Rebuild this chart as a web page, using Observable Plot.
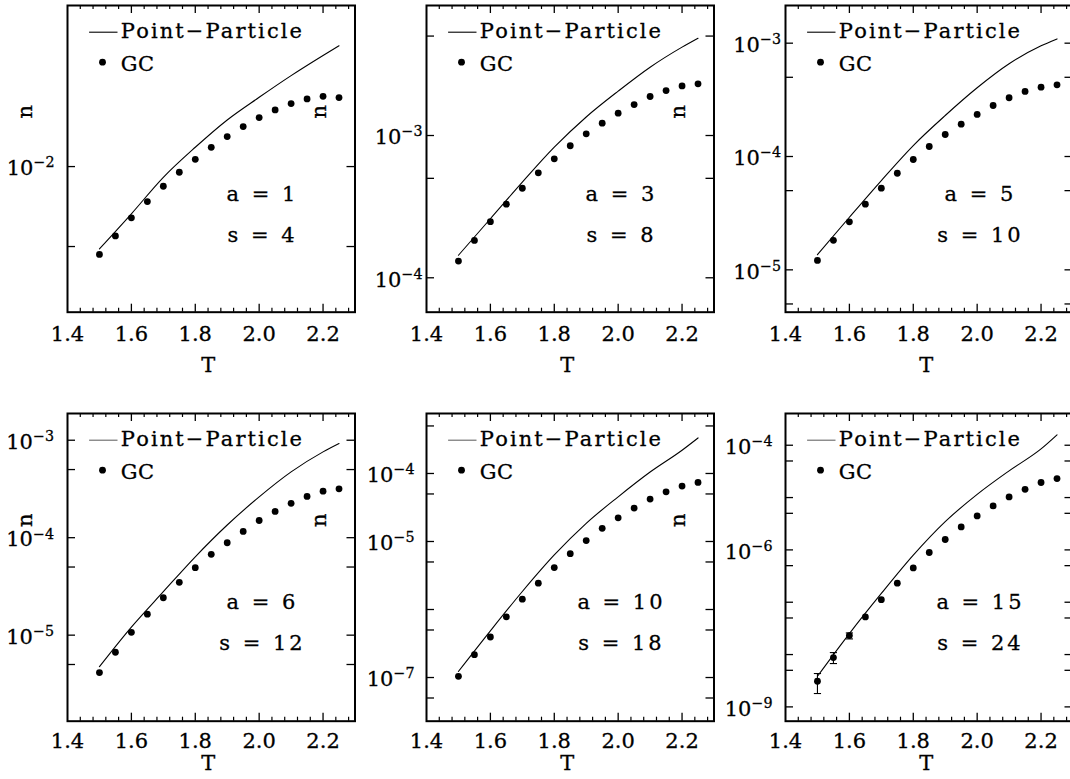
<!DOCTYPE html>
<html><head><meta charset="utf-8">
<script src="https://cdn.jsdelivr.net/npm/d3@7"></script>
<script src="https://cdn.jsdelivr.net/npm/@observablehq/plot@0.6"></script>
<style>
body{margin:0;background:#fff;}
#c{position:relative;width:1070px;height:779px;overflow:hidden;background:#fff;}
#c svg{position:absolute;max-width:none;}
</style></head><body><div id="c"></div>
<script>
// ---- data ----
const T = [1.5,1.55,1.6,1.65,1.7,1.75,1.8,1.85,1.9,1.95,2.0,2.05,2.1,2.15,2.2,2.25];
const T_pp = [1.5,1.6,1.7,1.8,1.9,2.0,2.1,2.2,2.25];

const gc_a1 = [4.67e-3,5.48e-3,6.41e-3,7.38e-3,8.43e-3,9.52e-3,1.065e-2,1.182e-2,1.297e-2,1.414e-2,1.529e-2,1.634e-2,1.726e-2,1.798e-2,1.839e-2,1.818e-2];
const pp_a1 = [4.90e-3,6.64e-3,9.11e-3,1.182e-2,1.498e-2,1.823e-2,2.20e-2,2.62e-2,2.85e-2];
const gc_a3 = [1.31e-4,1.83e-4,2.48e-4,3.29e-4,4.26e-4,5.47e-4,6.86e-4,8.47e-4,1.028e-3,1.22e-3,1.435e-3,1.65e-3,1.88e-3,2.07e-3,2.23e-3,2.31e-3];
const pp_a3 = [1.44e-4,2.60e-4,4.70e-4,8.28e-4,1.35e-3,2.05e-3,3.02e-3,4.18e-3,4.83e-3];
const gc_a5 = [1.21e-5,1.82e-5,2.65e-5,3.80e-5,5.25e-5,7.12e-5,9.41e-5,1.226e-4,1.564e-4,1.93e-4,2.35e-4,2.82e-4,3.30e-4,3.75e-4,4.09e-4,4.29e-4];
const pp_a5 = [1.36e-5,2.91e-5,6.14e-5,1.25e-4,2.30e-4,4.04e-4,6.58e-4,9.48e-4,1.09e-3];
const gc_a6 = [4.13e-6,6.68e-6,1.07e-5,1.64e-5,2.42e-5,3.48e-5,4.92e-5,6.75e-5,8.87e-5,1.16e-4,1.50e-4,1.86e-4,2.25e-4,2.65e-4,3.00e-4,3.17e-4];
const pp_a6 = [4.75e-6,1.21e-5,2.79e-5,6.37e-5,1.35e-4,2.62e-4,4.73e-4,7.59e-4,9.25e-4];
const gc_a10 = [1.04e-7,2.17e-7,3.94e-7,7.81e-7,1.42e-6,2.44e-6,4.13e-6,6.62e-6,1.03e-5,1.56e-5,2.23e-5,3.10e-5,4.20e-5,5.37e-5,6.52e-5,7.38e-5];
const pp_a10 = [1.23e-7,4.86e-7,1.84e-6,6.34e-6,1.85e-5,4.54e-5,1.05e-4,2.20e-4,3.33e-4];
const gc_a15 = [3.09e-9,8.77e-9,2.31e-8,5.24e-8,1.12e-7,2.31e-7,4.52e-7,8.91e-7,1.58e-6,2.75e-6,4.46e-6,6.92e-6,1.03e-5,1.44e-5,1.94e-5,2.31e-5];
const pp_a15 = [3.85e-9,2.52e-8,1.47e-7,7.94e-7,3.47e-6,1.15e-5,3.24e-5,8.51e-5,1.58e-4];
// error bars (a = 15 panel)
const err_T  = [1.5, 1.55, 1.6];
const err_lo = [1.80e-9, 6.73e-9, 1.99e-8];
const err_hi = [4.34e-9, 1.09e-8, 2.59e-8];

const a_vals = [1, 3, 5, 6, 10, 15];
const s_vals = [4, 8, 10, 12, 18, 24];

// axes
const x_domain = [1.4, 2.3];
const x_labels = [1.4, 1.6, 1.8, 2.0, 2.2];
const x_major = [1.6, 1.8, 2.0, 2.2];
const x_minor = [1.44,1.48,1.52,1.56,1.64,1.68,1.72,1.76,1.84,1.88,1.92,1.96,2.04,2.08,2.12,2.16,2.24,2.28];
const y_domains = [[2.83e-3, 4.04e-2],[5.73e-5, 8.20e-3],[4.23e-6, 2.15e-3],[1.31e-6, 1.88e-3],[2.28e-8, 7.62e-4],[5.33e-10, 4.04e-4]];
const y_ticks = [
  [5e-3, 1e-2],
  [1e-4, 5e-4, 1e-3, 5e-3],
  [5e-6, 1e-5, 5e-5, 1e-4, 5e-4, 1e-3],
  [5e-6, 1e-5, 5e-5, 1e-4, 5e-4, 1e-3],
  [5e-8, 1e-7, 5e-7, 1e-6, 5e-6, 1e-5, 5e-5, 1e-4, 5e-4],
  [1e-9, 5e-9, 1e-8, 5e-8, 1e-7, 5e-7, 1e-6, 5e-6, 1e-5, 5e-5, 1e-4]
];
const y_labels = [[1e-2],[1e-3,1e-4],[1e-3,1e-4,1e-5],[1e-3,1e-4,1e-5],[1e-4,1e-5,1e-7],[1e-4,1e-6,1e-9]];

const gcs = [gc_a1, gc_a3, gc_a5, gc_a6, gc_a10, gc_a15];
const pps = [pp_a1, pp_a3, pp_a5, pp_a6, pp_a10, pp_a15];

// ---- layout (pixels) ----
const layout = [
  {left:66.7,  top:5,     row:0, nDx:-42,    labDx:-13,  tDx:-3},
  {left:425.5, top:5,     row:0, nDx:-107.5, labDx:-4,   tDx:-3},
  {left:784.5, top:5,     row:0, nDx:-107.5, labDx:-4.5, tDx:-3},
  {left:66.7,  top:413.3, row:1, nDx:-42,    labDx:-13.5,tDx:-3},
  {left:425.5, top:413.3, row:1, nDx:-107.5, labDx:-12,  tDx:-3},
  {left:784.5, top:413.3, row:1, nDx:-107.5, labDx:-13,  tDx:-3}
];

const supMap = {"-":"⁻","0":"⁰","1":"¹","2":"²","3":"³","4":"⁴","5":"⁵","6":"⁶","7":"⁷","8":"⁸","9":"⁹"};
const unSup = Object.fromEntries(Object.entries(supMap).map(([k, v]) => [v, k === "-" ? "−" : k]));
const fmtPow = v => "10" + String(Math.round(Math.log10(v))).split("").map(c => supMap[c]).join("");
const hline = {draw(ctx, size){ const w = Math.sqrt(size/Math.PI); ctx.moveTo(-w,0); ctx.lineTo(w,0); }};

const FS = 21;
const container = document.getElementById("c");
const M = "middle";

layout.forEach((L, i) => {
  const W = 287.5, H = L.row ? 307.7 : 306.7;
  const ML = 120, MR = 10, MT = 10, MB = 65;
  const gcData = T.map((t, k) => ({T: t, n: gcs[i][k]}));
  const ppData = T_pp.map((t, k) => ({T: t, n: pps[i][k]}));
  const legendColor = L.row ? "#666" : "black";
  const marks = [
    Plot.frame({strokeWidth: 2}),
    Plot.ruleX(x_major, {x: d => d, insetTop: H - 8, strokeWidth: 1.3}),
    Plot.ruleX(x_major, {x: d => d, insetBottom: H - 8, strokeWidth: 1.3}),
    Plot.ruleX(x_minor, {x: d => d, insetTop: H - 4, strokeWidth: 1.2}),
    Plot.ruleX(x_minor, {x: d => d, insetBottom: H - 4, strokeWidth: 1.2}),
    Plot.ruleY(y_ticks[i], {y: d => d, insetRight: W - 8, strokeWidth: 1.3}),
    Plot.ruleY(y_ticks[i], {y: d => d, insetLeft: W - 8, strokeWidth: 1.3}),
    Plot.text(x_labels, {x: d => d, text: d => d.toFixed(1), frameAnchor: "bottom", lineAnchor: M, textAnchor: M, dy: L.row ? 20 : 22.5, fontSize: FS}),
    Plot.text(y_labels[i], {y: d => d, text: fmtPow, frameAnchor: "left", lineAnchor: M, textAnchor: "end", dx: L.labDx, dy: 2, fontSize: FS}),
    Plot.text(["n"], {x: null, y: null, text: d => d, frameAnchor: "left", lineAnchor: M, textAnchor: M, rotate: -90, dx: L.nDx, dy: -47, fontSize: FS}),
    Plot.text(["T"], {x: null, y: null, text: d => d, frameAnchor: "bottom", lineAnchor: M, textAnchor: M, dx: L.tDx, dy: L.row ? 42 : 53.5, fontSize: FS}),
    Plot.line(ppData, {x: "T", y: "n", curve: "monotone-x", strokeWidth: 1.1}),
    Plot.dot(gcData, {x: "T", y: "n", r: 3.4, fill: "black", stroke: "none"}),
    Plot.dot(["pp"], {x: null, y: null, frameAnchor: "top-left", dx: 35.8, dy: 26.7, r: 14.2, symbol: hline, fill: "none", stroke: legendColor, strokeWidth: 1.1}),
    Plot.text(["Point−Particle"], {x: null, y: null, text: d => d, frameAnchor: "top-left", lineAnchor: M, dx: 53.3, dy: 25.7, textAnchor: "start", fontSize: FS}),
    Plot.dot(["gc"], {x: null, y: null, frameAnchor: "top-left", dx: 35, dy: 56.7, r: 3.4, fill: "black", stroke: "none"}),
    Plot.text(["GC"], {x: null, y: null, text: d => d, frameAnchor: "top-left", lineAnchor: M, dx: 53.3, dy: 58.8, textAnchor: "start", fontSize: FS}),
    Plot.text([`a = ${a_vals[i]}`], {x: null, y: null, text: d => d, frameAnchor: "top-left", lineAnchor: M, dx: 195, dy: 189, textAnchor: M, fontSize: FS}),
    Plot.text([`s = ${s_vals[i]}`], {x: null, y: null, text: d => d, frameAnchor: "top-left", lineAnchor: M, dx: 195, dy: 230, textAnchor: M, fontSize: FS})
  ];
  if (i === 5) {
    const errData = err_T.map((t, k) => ({T: t, lo: err_lo[k], hi: err_hi[k]}));
    marks.push(
      Plot.ruleX(errData, {x: "T", y1: "lo", y2: "hi", strokeWidth: 1.1}),
      Plot.dot(errData, {x: "T", y: "lo", r: 3.6, symbol: hline, fill: "none", stroke: "black", strokeWidth: 1.1}),
      Plot.dot(errData, {x: "T", y: "hi", r: 3.6, symbol: hline, fill: "none", stroke: "black", strokeWidth: 1.1})
    );
  }
  const svg = Plot.plot({
    width: ML + W + MR, height: MT + H + MB,
    marginLeft: ML, marginRight: MR, marginTop: MT, marginBottom: MB,
    x: {type: "linear", domain: x_domain, axis: null},
    y: {type: "log", domain: y_domains[i], axis: null},
    style: {fontFamily: "'DejaVu Serif', serif", fontSize: FS + "px", background: "transparent", overflow: "visible", color: "black"},
    marks
  });
  svg.style.left = (L.left - ML) + "px";
  svg.style.top = (L.top - MT) + "px";
  d3.select(svg).selectAll("text").each(function() {
    const t = this.textContent;
    this.style.fontFamily = "'DejaVu Serif', serif";
    this.style.stroke = "black";
    this.style.strokeWidth = "0.3px";
    if (t.includes("Particle")) this.style.letterSpacing = "2.1px";
    else if (t.includes("=")) this.style.letterSpacing = "3px";
    else if (t === "GC") this.style.letterSpacing = "0.5px";
    else if (/^10[⁻⁰¹²³⁴⁵⁶⁷⁸⁹]+$/.test(t)) {
      const exp = t.slice(2).split("").map(c => unSup[c]).join("");
      const sel = d3.select(this);
      sel.text("10");
      sel.append("tspan").attr("dy", "-0.55em").attr("font-size", "0.68em").text(exp);
    }
  });
  container.appendChild(svg);
});
</script></body></html>
